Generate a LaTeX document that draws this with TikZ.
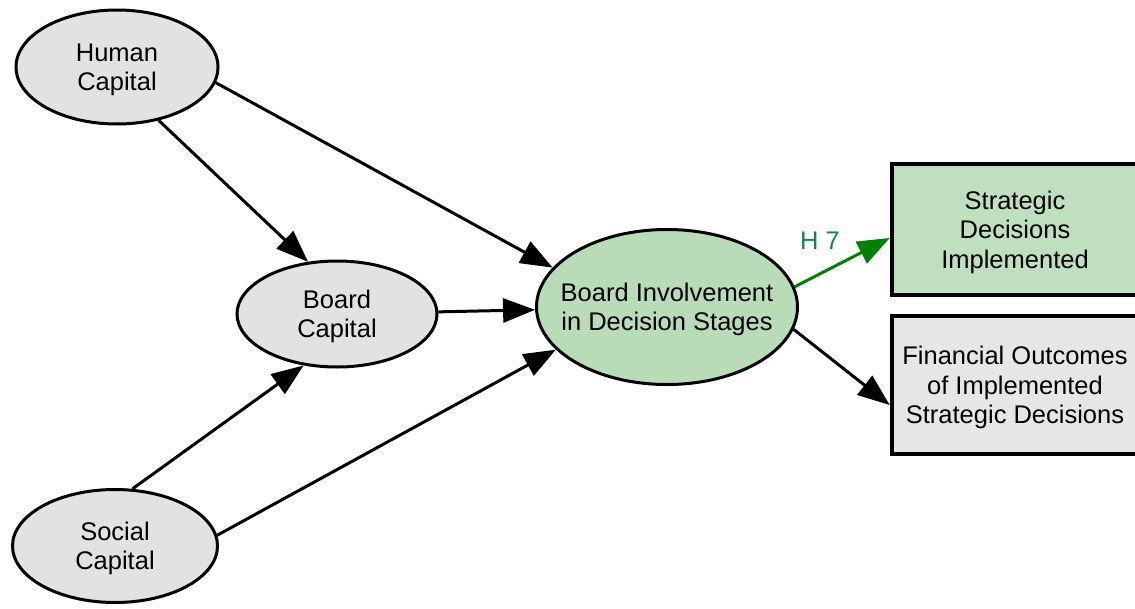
\documentclass[tikz,border=0pt]{standalone}
\usepackage{fontspec}
\setmainfont{Liberation Sans}
\usetikzlibrary{arrows.meta,shapes.geometric}

\definecolor{capgray}{RGB}{226,226,226}
\definecolor{boxgray}{RGB}{230,230,230}
\definecolor{involvegreen}{RGB}{184,220,184}
\definecolor{boxgreen}{RGB}{190,224,190}
\definecolor{linkgreen}{RGB}{0,128,0}
\definecolor{labelgreen}{RGB}{22,134,64}

\tikzset{
  label font/.style={font=\fontsize{25.5}{29.5}\selectfont, align=center},
  % a shallower text box sets the lines a little lower in each shape
  low text/.style={text depth=-3pt},
  capital/.style={ellipse, draw=black, line width=3pt, fill=capgray,
    inner xsep=-20pt, inner ysep=-6pt, label font, low text},
  involve/.style={ellipse, draw=black, line width=3pt, fill=involvegreen,
    inner xsep=-30pt, inner ysep=-6pt, label font, low text},
  outcome/.style={rectangle, draw=black, line width=4.5pt, inner sep=0pt,
    minimum width=246pt, label font, low text},
  link/.style={line width=3pt, draw=black,
    -{Triangle[length=32pt,width=24pt]}},
  greenlink/.style={link, draw=linkgreen, fill=linkgreen},
}

\begin{document}
\begin{tikzpicture}[x=1pt,y=-1pt]
  \useasboundingbox (0,0) rectangle (1135,608);

  % latent capital constructs
  \node[capital, minimum width=202pt, minimum height=114pt] (hc) at (117,67) {Human\\Capital};
  \node[capital, minimum width=200pt, minimum height=106pt] (bc) at (337,314) {Board\\Capital};
  \node[capital, minimum width=205pt, minimum height=113pt] (sc) at (115,546) {Social\\Capital};

  % mediating construct
  \node[involve, minimum width=261pt, minimum height=155pt] (bi) at (667,307)
    {Board Involvement\\in Decision Stages};

  % outcome boxes (running past the right edge)
  \node[outcome, fill=boxgreen, minimum height=131pt] (sd) at (1015,229.5)
    {Strategic\\Decisions\\Implemented};
  \node[outcome, fill=boxgray, minimum height=138pt] (fo) at (1015,385)
    {Financial Outcomes\\of Implemented\\Strategic Decisions};

  % paths
  \draw[link] (hc.-52) -- (bc.119);
  \draw[link] (hc.-9) -- (bi.161);
  \draw[link] (bc) -- (bi);
  \draw[link] (sc.73) -- (bc.237);
  \draw[link] (sc.6) -- (bi.201);
  \draw[greenlink] (bi.9) -- ([yshift=-8.5pt]sd.west);
  \draw[link] (bi.-10) -- ([yshift=-20pt]fo.west);

  % hypothesis label
  \node[label font, text=labelgreen] (h7) at (820,241) {H 7};
\end{tikzpicture}
\end{document}
